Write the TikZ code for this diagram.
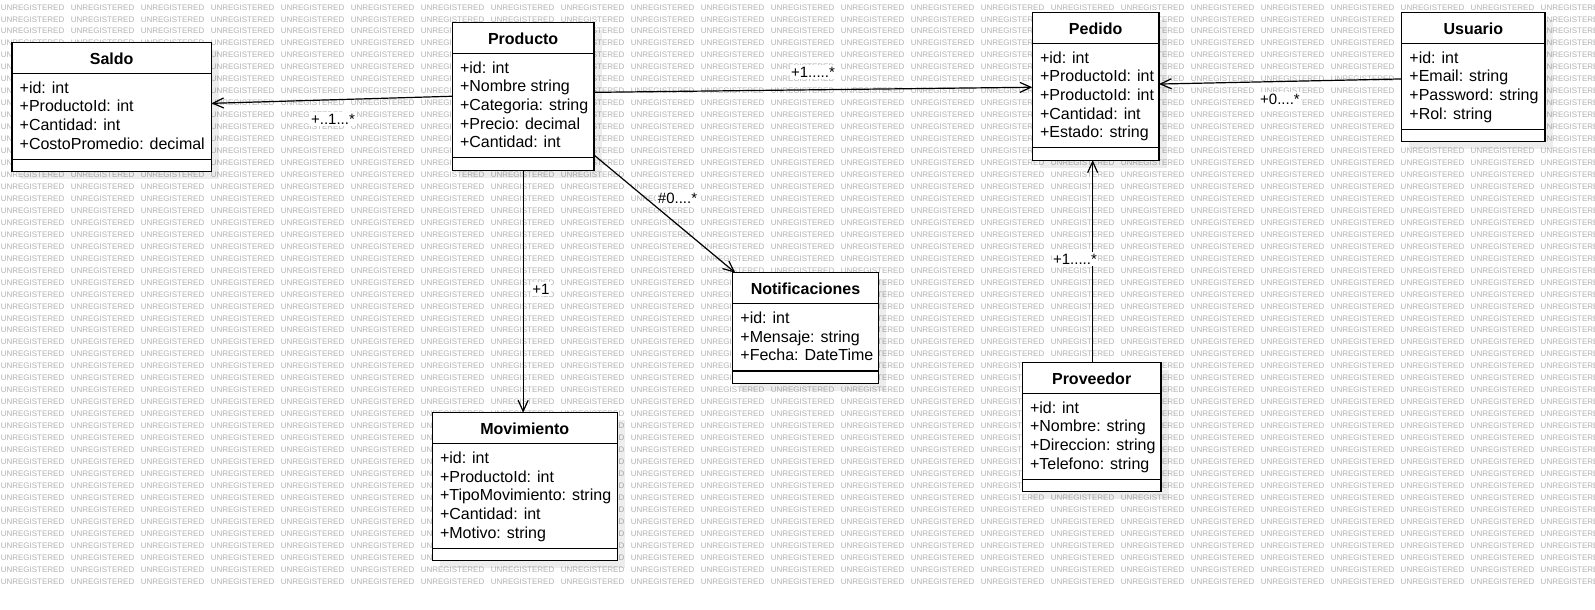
\documentclass[tikz,border=0pt]{standalone}
\usepackage{fontspec}
\setmainfont{Liberation Sans}
\usetikzlibrary{arrows.meta,calc}
\tikzset{
  clsbox/.style={draw=black, line width=1.2pt, fill=white, inner sep=0pt, outer sep=0pt},
  clsshadow/.style={fill=black, fill opacity=0.07, draw=none},
  clsline/.style={draw=black, line width=1.2pt},
  clstitle/.style={font=\fontsize{16}{18}\selectfont\bfseries, inner sep=0pt, anchor=base},
  clsattr/.style={font=\fontsize{16}{18}\selectfont, inner sep=0pt, anchor=base west},
  assoc/.style={draw=black, line width=1.2pt, -{Straight Barb[length=11pt,width=10pt,line width=1.2pt]}},
  mult/.style={font=\fontsize{15}{17}\selectfont, fill=white, inner sep=1.5pt},
  wmtext/.style={font=\fontsize{8}{9}\selectfont, text=black!30, inner sep=0pt, anchor=west},
}
\newcommand{\wmword}{\makebox[70pt][l]{UNREGISTERED}}
\newcommand{\wmrow}{\wmword\wmword\wmword\wmword\wmword\wmword\wmword\wmword\wmword\wmword\wmword\wmword\wmword\wmword\wmword\wmword\wmword\wmword\wmword\wmword\wmword\wmword\wmword}
% #1 name, #2 x, #3 y, #4 width, #5 rows, #6 title, #7 attributes
\newcommand{\umlclass}[7]{%
  \pgfmathsetmacro\clsH{31+#5*18.6+11.4+12.5}%
  \pgfmathsetmacro\clsB{31+#5*18.6+11.4}%
  \fill[clsshadow] (#2+7.5,#3+7.5) rectangle ++(#4,\clsH);
  \node[clsbox, minimum width=#4pt, minimum height=\clsH pt, anchor=north west] (#1) at (#2,#3) {};
  \draw[clsline] ($(#1.north west)+(0,31)$) -- ($(#1.north east)+(0,31)$);
  \draw[clsline] ($(#1.north west)+(0,\clsB)$) -- ($(#1.north east)+(0,\clsB)$);
  \node[clstitle] (#1-title) at ($(#1.north)+(0,21.8)$) {#6};
  \foreach \attr [count=\idx from 0] in {#7} {
    \node[clsattr] (#1-a\idx) at ($(#1.north west)+(7.5,31+19.9+18.6*\idx)$) {\attr};
  }
}
\begin{document}
\begin{tikzpicture}[x=1pt,y=-1pt]
\useasboundingbox (0,0) rectangle (1595,610);
\fill[white] (0,0) rectangle (1595,610);
% watermark
\begin{scope}
\clip (0,0) rectangle (1595,610);
\foreach \k in {0,...,48} {
  \node[wmtext] (wm\k) at (0.6, 7.3+11.96*\k) {\wmrow};
}
\end{scope}
% classes
\umlclass{saldo}{12}{42.3}{199.3}{4}{Saldo}{+id: int, +ProductoId: int, +Cantidad: int, +CostoPromedio: decimal}
\umlclass{producto}{452.3}{22.3}{141.7}{5}{Producto}{+id: int, +Nombre string, +Categoria: string, +Precio: decimal, +Cantidad: int}
\umlclass{pedido}{1032.3}{12.3}{126.7}{5}{Pedido}{+id: int, +ProductoId: int, +ProductoId: int, +Cantidad: int, +Estado: string}
\umlclass{usuario}{1401.7}{12.3}{143.3}{4}{Usuario}{+id: int, +Email: string, +Password: string, +Rol: string}
\umlclass{notif}{732.7}{272.7}{145.6}{3}{Notificaciones}{+id: int, +Mensaje: string, +Fecha: DateTime}
\umlclass{movimiento}{432.3}{412.7}{185}{5}{Movimiento}{+id: int, +ProductoId: int, +TipoMovimiento: string, +Cantidad: int, +Motivo: string}
\umlclass{proveedor}{1022.3}{362.3}{138.7}{4}{Proveedor}{+id: int, +Nombre: string, +Direccion: string, +Telefono: string}
% connectors
\draw[assoc] (producto.west) -- ([yshift=3.6pt]saldo.east);
\draw[assoc] ([yshift=3.9pt]producto.east) -- ([yshift=-1pt]pedido.west);
\draw[assoc] ([yshift=-2pt]usuario.west) -- ([yshift=2.2pt]pedido.east);
\draw[assoc] (producto.south) -- (producto.south |- movimiento.north);
\draw[assoc] ([yshift=15.2pt]producto.south east) -- ([xshift=2.5pt]notif.north west);
\draw[assoc] ([xshift=1pt]proveedor.north) -- ([xshift=1pt]proveedor.north |- pedido.south);
% multiplicities
\node[mult] (m1) at (333,119) {+..1...*};
\node[mult] (m2) at (813,72) {+1.....*};
\node[mult] (m3) at (1280,99) {+0....*};
\node[mult] (m4) at (677.5,198) {\#0....*};
\node[mult] (m5) at (541,289) {+1};
\node[mult] (m6) at (1075,259) {+1.....*};
\end{tikzpicture}
\end{document}
